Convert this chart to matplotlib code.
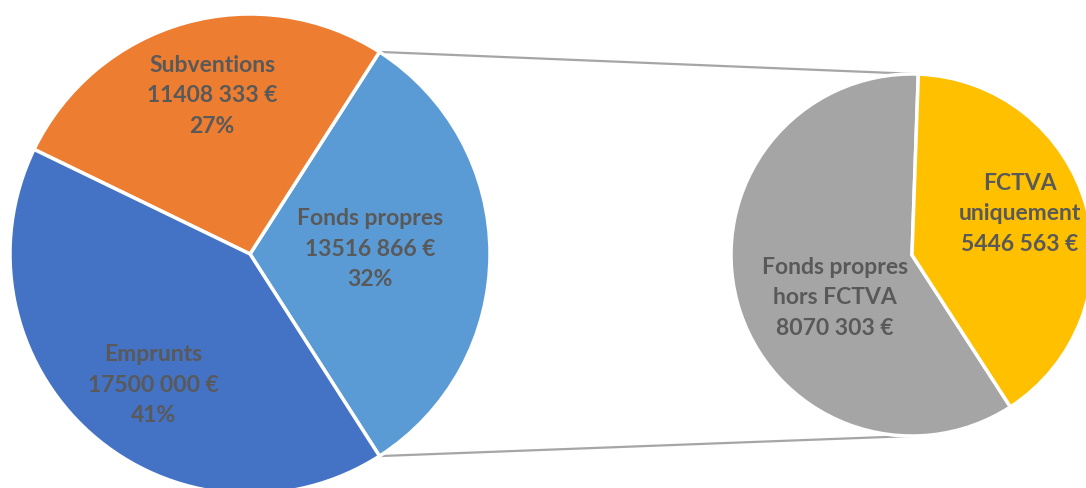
import matplotlib
matplotlib.use("Agg")
import matplotlib.pyplot as plt
import math

# ---- data ----
main_labels = ["Fonds propres", "Subventions", "Emprunts"]
main_values = [13516866, 11408333, 17500000]
sub_labels = ["Fonds propres\nhors FCTVA", "FCTVA\nuniquement"]
sub_values = [8070303, 5446563]

main_colors = ["#5B9BD5", "#ED7D31", "#4472C4"]
sub_colors = ["#A5A5A5", "#FFC000"]
text_color = "#595959"

W, H = 1086, 488
fig = plt.figure(figsize=(W / 100, H / 100), dpi=100)
ax = fig.add_axes([0, 0, 1, 1])


def euro(v):
    return f"{v // 1000} {v % 1000:03d} €"


# main pie
c1 = (250, H - 254)
r1 = 240
total = sum(main_values)
fp_angle = main_values[0] / total * 360
start1 = -fp_angle / 2
ax.pie(main_values, colors=main_colors, center=c1, radius=r1,
       startangle=start1, counterclock=True, frame=True,
       wedgeprops=dict(edgecolor="white", linewidth=2.5))

# secondary pie
c2 = (912, H - 255)
r2 = 181
ax.pie(sub_values, colors=sub_colors, center=c2, radius=r2,
       startangle=88, counterclock=True, frame=True,
       wedgeprops=dict(edgecolor="white", linewidth=2.5))
ax.set_xlim(0, W)
ax.set_ylim(0, H)
ax.set_aspect("equal")
ax.axis("off")

# connector lines
a_top = math.radians(start1 + fp_angle)
a_bot = math.radians(start1)
p_top = (c1[0] + r1 * math.cos(a_top), c1[1] + r1 * math.sin(a_top))
p_bot = (c1[0] + r1 * math.cos(a_bot), c1[1] + r1 * math.sin(a_bot))
ax.plot([p_top[0], c2[0] + 5], [p_top[1], c2[1] + r2], color="#A6A6A6", lw=1.6, zorder=0)
ax.plot([p_bot[0], c2[0]], [p_bot[1], c2[1] - r2], color="#A6A6A6", lw=1.6, zorder=0)

font = dict(family=["Lato", "DejaVu Sans"], fontsize=16.5, fontweight="bold",
            color=text_color, ha="center", va="center", linespacing=1.55)

main_offsets = [(120, 5), (-38, 158), (-97, -131)]
for lab, v, off in zip(main_labels, main_values, main_offsets):
    pct = round(v / total * 100)
    ax.text(c1[0] + off[0], c1[1] + off[1], f"{lab}\n{euro(v)}\n{pct}%", **font)

sub_offsets = [(-77, -43), (108, 41)]
for lab, v, off in zip(sub_labels, sub_values, sub_offsets):
    ax.text(c2[0] + off[0], c2[1] + off[1], f"{lab}\n{euro(v)}", **font)

fig.savefig("out.png", dpi=100, facecolor="white")
